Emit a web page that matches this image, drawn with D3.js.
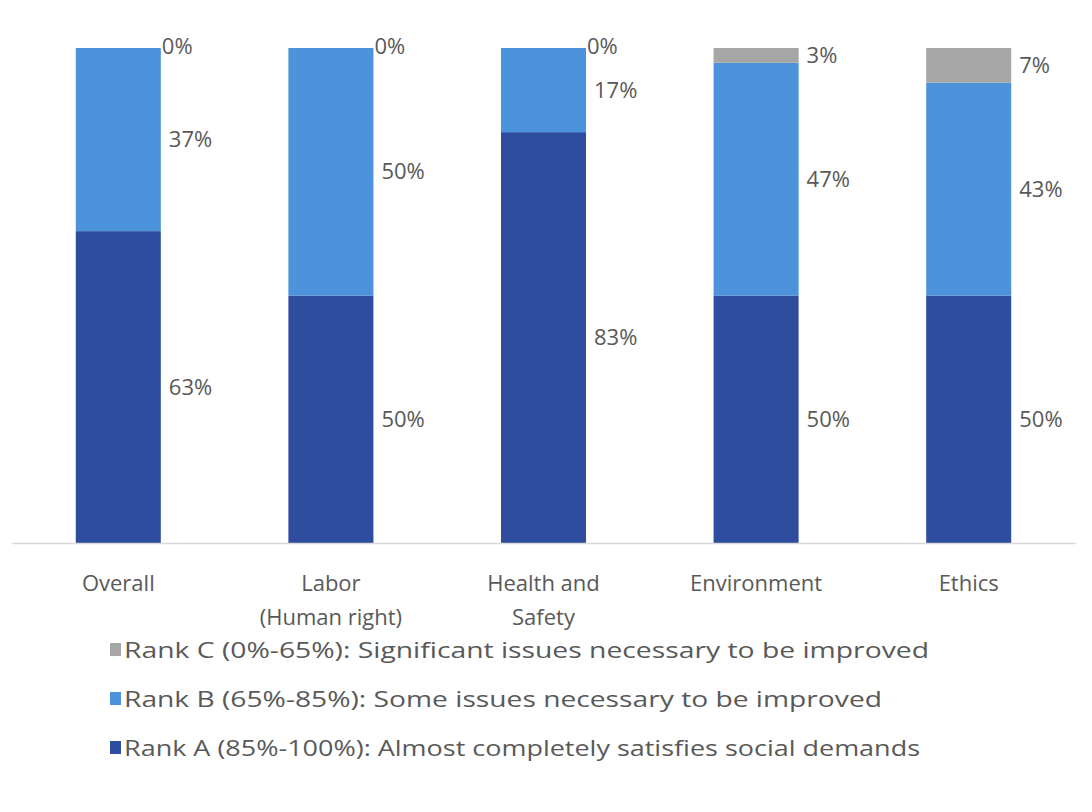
<!DOCTYPE html>
<html>
<head>
<meta charset="utf-8">
<script src="https://cdn.jsdelivr.net/npm/d3@7"></script>
<style>
  html, body { margin: 0; padding: 0; background: #ffffff; }
  svg { display: block; font-family: "Open Sans", "Noto Sans", sans-serif; }
</style>
</head>
<body>
<svg id="chart" width="1092" height="812"></svg>
<script>
// Categories (multi-line labels split on "\n")
const categories = ["Overall", "Labor\n(Human right)", "Health and\nSafety", "Environment", "Ethics"];

// Share of assessed items per rank (%)
const rankA = [63, 50, 83, 50, 50];
const rankB = [37, 50, 17, 47, 43];
const rankC = [0, 0, 0, 3, 7];

const seriesKeys = ["A", "B", "C"];
const legendLabels = [
  "Rank C (0%-65%): Significant issues necessary to be improved",
  "Rank B (65%-85%): Some issues necessary to be improved",
  "Rank A (85%-100%): Almost completely satisfies social demands"
];

const colors = { A: "#2E4D9F", B: "#4C93DB", C: "#A6A6A6" };

const svg = d3.select("#chart");
const margin = { left: 12, right: 17, top: 48, bottom: 269 };
const W = 1092, H = 812;
const plotBottom = H - margin.bottom;

const x = d3.scaleBand()
  .domain(categories)
  .range([margin.left, W - margin.right])
  .paddingInner(0.6)
  .paddingOuter(0.3);

const y = d3.scaleLinear().domain([0, 100]).range([plotBottom, margin.top]);

const rows = categories.map((c, i) => ({ cat: c, A: rankA[i], B: rankB[i], C: rankC[i] }));
const stacked = d3.stack().keys(seriesKeys)(rows);

// Stacked bars
svg.append("g").selectAll("g")
  .data(stacked)
  .join("g")
  .attr("fill", d => colors[d.key])
  .selectAll("rect")
  .data(d => d)
  .join("rect")
  .attr("x", d => x(d.data.cat))
  .attr("width", x.bandwidth())
  .attr("y", d => y(d[1]))
  .attr("height", d => y(d[0]) - y(d[1]));

// Category axis
const xAxis = svg.append("g")
  .attr("transform", `translate(0,${plotBottom})`)
  .call(d3.axisBottom(x).tickSize(0).tickFormat(""));
xAxis.select(".domain").attr("stroke", "#d9d9d9").attr("stroke-width", 1.5);

const catLabels = svg.append("g");
categories.forEach(c => {
  const lines = c.split("\n");
  const t = catLabels.append("text")
    .attr("x", x(c) + x.bandwidth() / 2)
    .attr("y", plotBottom + 48)
    .attr("text-anchor", "middle")
    .attr("fill", "#595959")
    .attr("font-size", 22);
  lines.forEach((ln, k) => {
    t.append("tspan")
      .attr("x", x(c) + x.bandwidth() / 2)
      .attr("dy", k === 0 ? 0 : 34)
      .text(ln);
  });
});

// Value labels to the right of each segment
const labelG = svg.append("g");
stacked.forEach(s => {
  s.forEach(d => {
    const v = d[1] - d[0];
    const yy = v === 0 ? y(d[1]) - 2 : (y(d[0]) + y(d[1])) / 2;
    labelG.append("text")
      .attr("x", x(d.data.cat) + x.bandwidth() + (v === 0 ? 1 : 8))
      .attr("y", yy)
      .attr("dy", "0.35em")
      .attr("fill", "#595959")
      .attr("font-size", 22)
      .text(v + "%");
  });
});

// Legend
const legend = svg.append("g");
const legendKeys = ["C", "B", "A"];
legendKeys.forEach((k, i) => {
  const ly = 650 + i * 49;
  legend.append("rect")
    .attr("x", 110).attr("y", ly - 7)
    .attr("width", 11).attr("height", 13)
    .attr("fill", colors[k]);
  legend.append("text")
    .attr("x", 124).attr("y", ly)
    .attr("dy", "0.35em")
    .attr("fill", "#595959")
    .attr("font-size", 22)
    .attr("textLength", [805, 758, 796][i])
    .attr("lengthAdjust", "spacingAndGlyphs")
    .text(legendLabels[i]);
});
</script>
</body>
</html>
